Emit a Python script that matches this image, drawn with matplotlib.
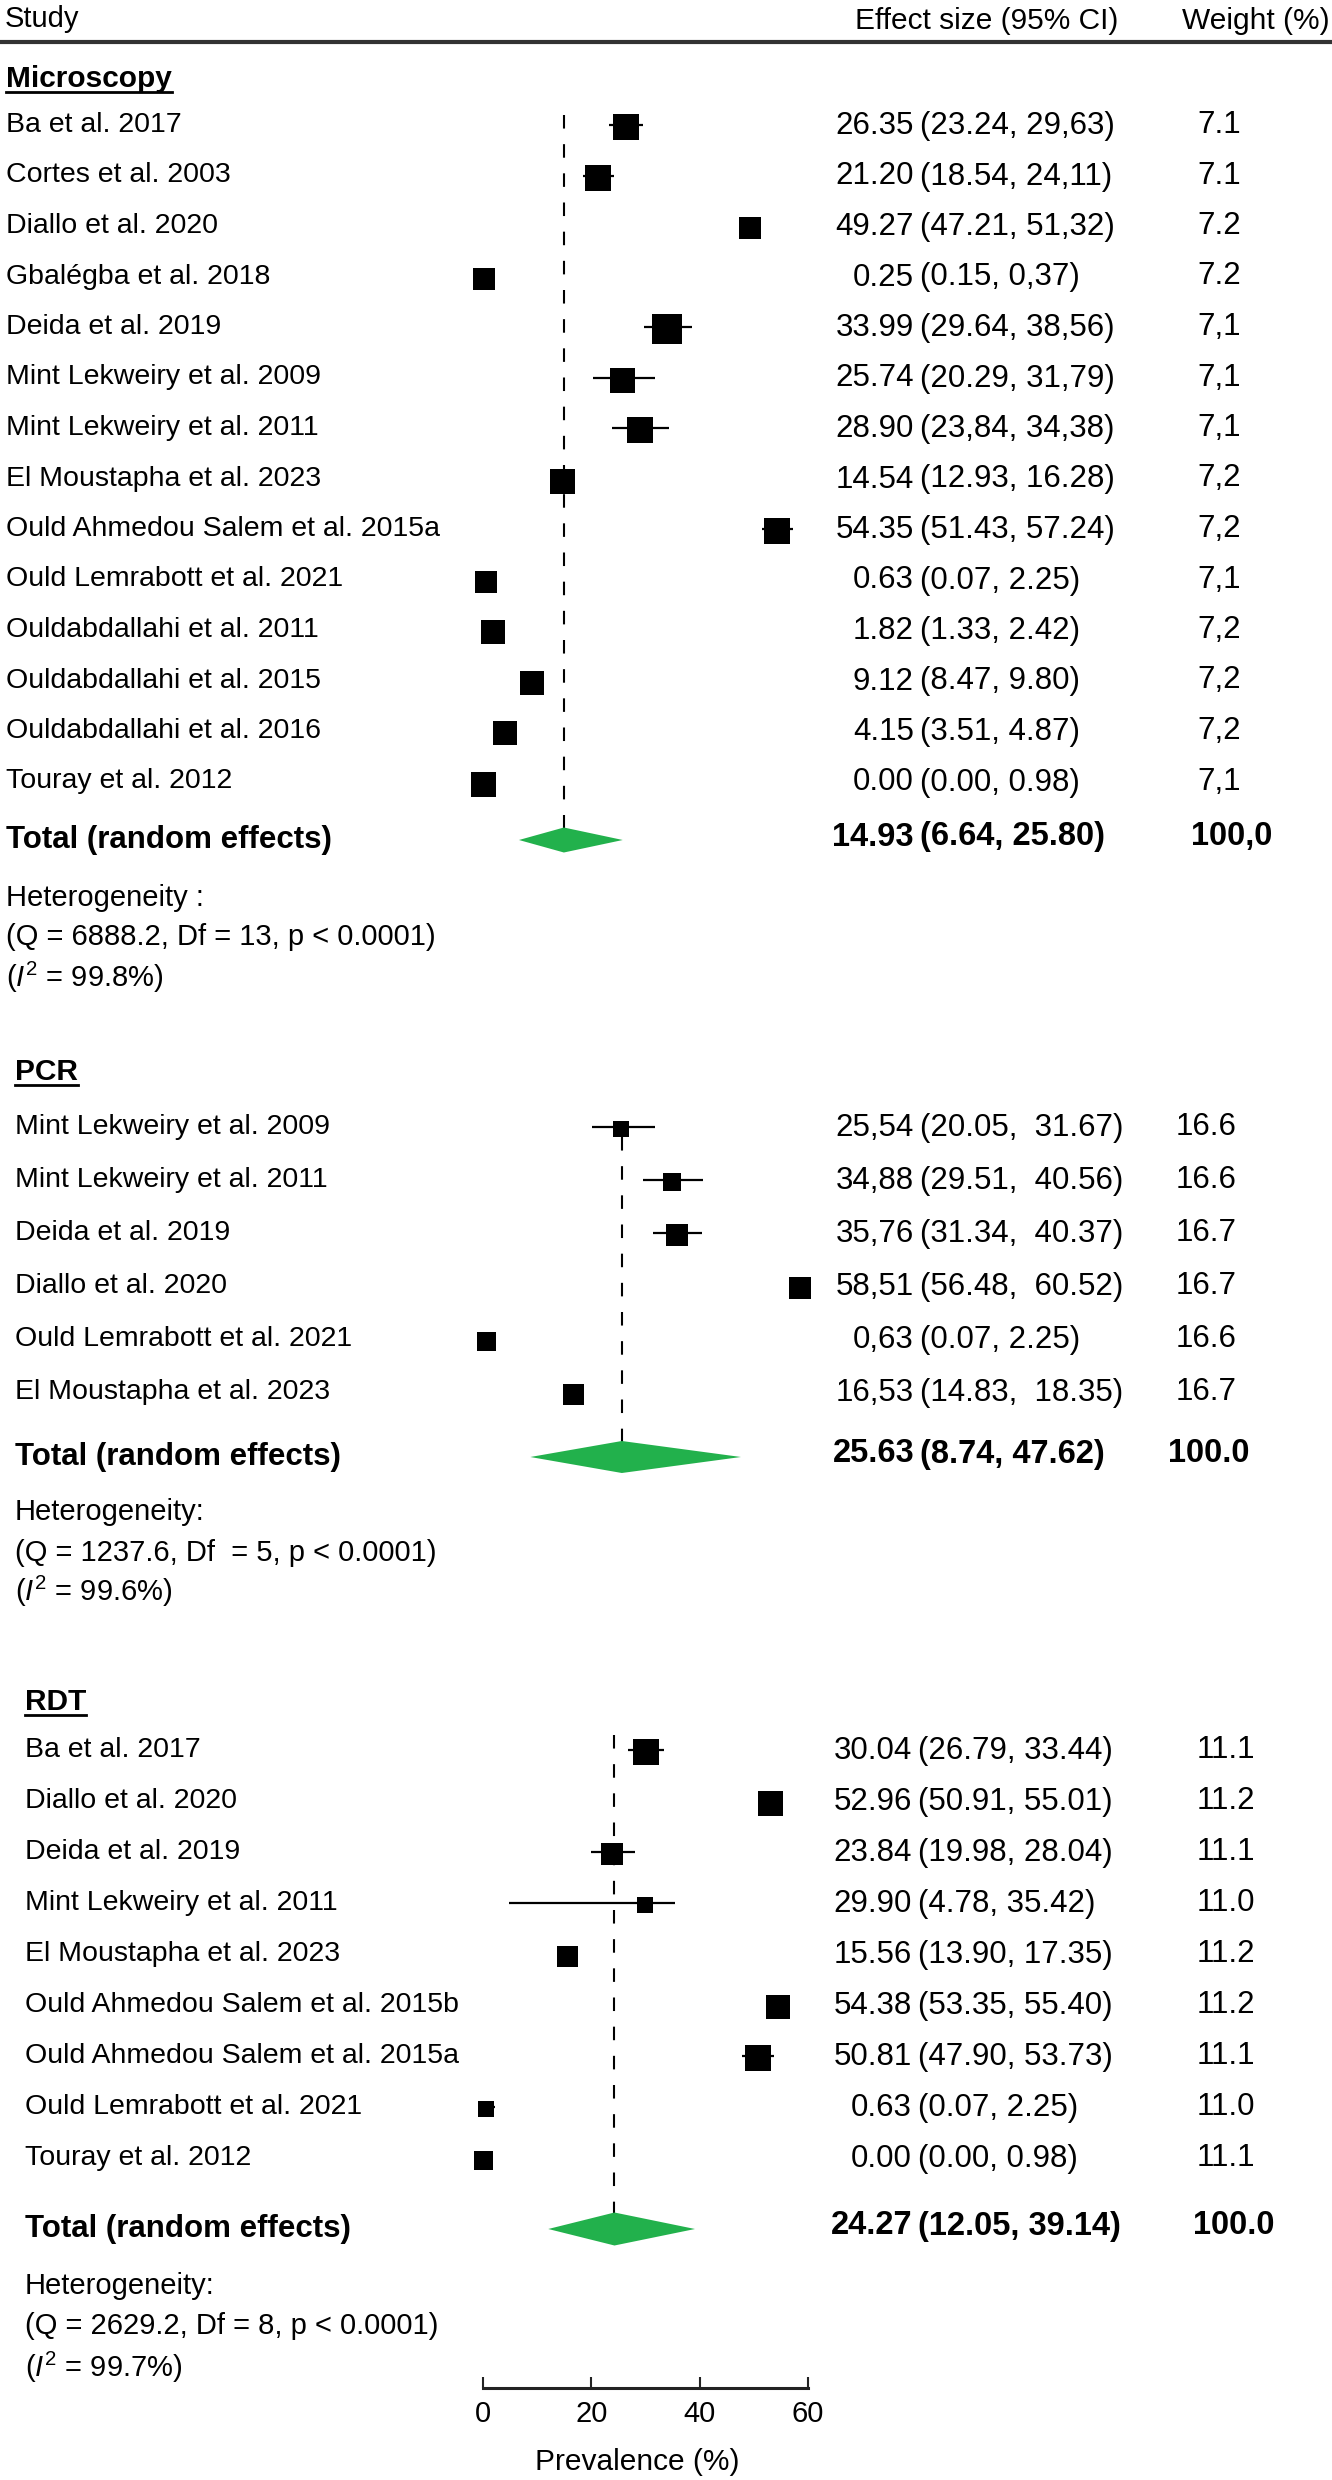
import numpy as np
import matplotlib
matplotlib.use("Agg")
import matplotlib.pyplot as plt
import matplotlib.transforms as mtransforms
from matplotlib.lines import Line2D

plt.rcParams['font.family'] = ['Liberation Sans', 'DejaVu Sans']
plt.rcParams['mathtext.fontset'] = 'custom'
plt.rcParams['mathtext.rm'] = 'Liberation Sans'
plt.rcParams['mathtext.it'] = 'Liberation Sans:italic'

# ---- Microscopy
micro_study = ["Ba et al. 2017", "Cortes et al. 2003", "Diallo et al. 2020", "Gbalégba et al. 2018",
               "Deida et al. 2019", "Mint Lekweiry et al. 2009", "Mint Lekweiry et al. 2011",
               "El Moustapha et al. 2023", "Ould Ahmedou Salem et al. 2015a", "Ould Lemrabott et al. 2021",
               "Ouldabdallahi et al. 2011", "Ouldabdallahi et al. 2015", "Ouldabdallahi et al. 2016",
               "Touray et al. 2012"]
micro_est = [26.35, 21.20, 49.27, 0.25, 33.99, 25.74, 28.90, 14.54, 54.35, 0.63, 1.82, 9.12, 4.15, 0.00]
micro_lo = [23.24, 18.54, 47.21, 0.15, 29.64, 20.29, 23.84, 12.93, 51.43, 0.07, 1.33, 8.47, 3.51, 0.00]
micro_hi = [29.63, 24.11, 51.32, 0.37, 38.56, 31.79, 34.38, 16.28, 57.24, 2.25, 2.42, 9.80, 4.87, 0.98]
micro_txt = ["26.35 (23.24, 29,63)", "21.20 (18.54, 24,11)", "49.27 (47.21, 51,32)", "0.25 (0.15, 0,37)",
             "33.99 (29.64, 38,56)", "25.74 (20.29, 31,79)", "28.90 (23,84, 34,38)", "14.54 (12.93, 16.28)",
             "54.35 (51.43, 57.24)", "0.63 (0.07, 2.25)", "1.82 (1.33, 2.42)", "9.12 (8.47, 9.80)",
             "4.15 (3.51, 4.87)", "0.00 (0.00, 0.98)"]
micro_wt = ["7.1", "7.1", "7.2", "7.2", "7,1", "7,1", "7,1", "7,2", "7,2", "7,1", "7,2", "7,2", "7,2", "7,1"]
micro_total = (14.93, 6.64, 25.80)
micro_total_txt = "14.93 (6.64, 25.80)"
micro_total_wt = "100,0"
micro_het = ["Heterogeneity :", "(Q = 6888.2, Df = 13, p < 0.0001)", r"($\mathit{I}^2$ = 99.8%)"]

# ---- PCR
pcr_study = ["Mint Lekweiry et al. 2009", "Mint Lekweiry et al. 2011", "Deida et al. 2019",
             "Diallo et al. 2020", "Ould Lemrabott et al. 2021", "El Moustapha et al. 2023"]
pcr_est = [25.54, 34.88, 35.76, 58.51, 0.63, 16.53]
pcr_lo = [20.05, 29.51, 31.34, 56.48, 0.07, 14.83]
pcr_hi = [31.67, 40.56, 40.37, 60.52, 2.25, 18.35]
pcr_txt = ["25,54 (20.05,  31.67)", "34,88 (29.51,  40.56)", "35,76 (31.34,  40.37)",
           "58,51 (56.48,  60.52)", "0,63 (0.07, 2.25)", "16,53 (14.83,  18.35)"]
pcr_wt = ["16.6", "16.6", "16.7", "16.7", "16.6", "16.7"]
pcr_total = (25.63, 8.74, 47.62)
pcr_total_txt = "25.63 (8.74, 47.62)"
pcr_total_wt = "100.0"
pcr_het = ["Heterogeneity:", "(Q = 1237.6, Df  = 5, p < 0.0001)", r"($\mathit{I}^2$ = 99.6%)"]

# ---- RDT
rdt_study = ["Ba et al. 2017", "Diallo et al. 2020", "Deida et al. 2019", "Mint Lekweiry et al. 2011",
             "El Moustapha et al. 2023", "Ould Ahmedou Salem et al. 2015b", "Ould Ahmedou Salem et al. 2015a",
             "Ould Lemrabott et al. 2021", "Touray et al. 2012"]
rdt_est = [30.04, 52.96, 23.84, 29.90, 15.56, 54.38, 50.81, 0.63, 0.00]
rdt_lo = [26.79, 50.91, 19.98, 4.78, 13.90, 53.35, 47.90, 0.07, 0.00]
rdt_hi = [33.44, 55.01, 28.04, 35.42, 17.35, 55.40, 53.73, 2.25, 0.98]
rdt_txt = ["30.04 (26.79, 33.44)", "52.96 (50.91, 55.01)", "23.84 (19.98, 28.04)", "29.90 (4.78, 35.42)",
           "15.56 (13.90, 17.35)", "54.38 (53.35, 55.40)", "50.81 (47.90, 53.73)", "0.63(0.07, 2.25)",
           "0.00(0.00, 0.98)"]
rdt_wt = ["11.1", "11.2", "11.1", "11.0", "11.2", "11.2", "11.1", "11.0", "11.1"]
rdt_total = (24.27, 12.05, 39.14)
rdt_total_txt = "24.27 (12.05, 39.14)"
rdt_total_wt = "100.0"
rdt_het = ["Heterogeneity:", "(Q = 2629.2, Df = 8, p < 0.0001)", r"($\mathit{I}^2$ = 99.7%)"]

xticks = [0, 20, 40, 60]
green = "#22b14c"

# figure in pixel units: 100 dpi
W, H = 1332, 2480
x0px, ppu = 483, 325 / 60.0
fig = plt.figure(figsize=(W / 100, H / 100), dpi=100)
ax = fig.add_axes([0, 0, 1, 1])
ax.set_xlim(-x0px / ppu, (W - x0px) / ppu)
ax.set_ylim(H, 0)
tx = mtransforms.blended_transform_factory(ax.transAxes, ax.transData)

FS = 20.5      # study names
FS_EFF = 22.5  # effect / weight columns
FS_TOT = 23.5  # total rows (bold numbers)
FS_HET = 21


def put(xpx, y, s, **kw):
    kw.setdefault("fontsize", FS)
    return ax.text(xpx / W, y, s, transform=tx, va="center", **kw)


# header
put(5, 19, "Study", fontsize=21)
put(855, 21, "Effect size (95% CI)", fontsize=21.5)
put(1182, 21, "Weight (%)", fontsize=21.5)
ax.axhline(42, color="#333333", lw=3)

underlines = []


def draw_panel(title, study, est, lo, hi, txt, wt, total, total_txt, total_wt, het, lay):
    t = put(lay["lx"], lay["title_y"], title, fontweight="bold", fontsize=21.5)
    underlines.append((t, lay["title_y"] + 13))
    ys = [lay["y0"] + i * lay["step"] for i in range(len(study))]
    # reference line
    ax.vlines(total[0], lay["dash_top"], lay["total_y"], colors="black", lw=1.5,
              linestyles=(0, (6.5, 7.5)), zorder=1)
    for i, y in enumerate(ys):
        put(lay["lx"], y, study[i])
        ax.hlines(y, lo[i], hi[i], colors="black", lw=1.6, zorder=2)
        ax.scatter([est[i]], [y + 2], s=(lay["box"][i] * 0.72) ** 2, marker="s", color="black",
                   linewidths=0, zorder=3)
        e, c = txt[i].split("(", 1)
        put(lay["ex"], y + 1, e.rstrip(), ha="right", fontsize=FS_EFF)
        put(lay["ex"] + 6, y + 1, "(" + c, ha="left", fontsize=FS_EFF)
        put(lay["wx"], y, wt[i], fontsize=FS_EFF)
    # pooled estimate
    ty = lay["total_y"]
    dh = lay["dh"] / 2
    ax.fill([total[1], total[0], total[2], total[0]], [ty, ty - dh, ty, ty + dh], color=green, lw=0, zorder=2)
    put(lay["lx"], ty, "Total (random effects)", fontweight="bold", fontsize=22.5)
    e, c = total_txt.split("(", 1)
    put(lay["ex"], ty - 3, e.rstrip(), ha="right", fontsize=FS_TOT, fontweight="bold")
    put(lay["ex"] + 6, ty - 3, "(" + c, ha="left", fontsize=FS_TOT, fontweight="bold")
    put(lay["twx"], ty - 4, total_wt, fontsize=FS_TOT, fontweight="bold")
    for k, hy in enumerate(lay["het_y"]):
        put(lay["lx"], hy, het[k], fontsize=FS_HET)


draw_panel("Microscopy", micro_study, micro_est, micro_lo, micro_hi, micro_txt, micro_wt,
           micro_total, micro_total_txt, micro_total_wt, micro_het,
           dict(lx=6, title_y=79, y0=125, step=50.5, total_y=840, het_y=[898, 937, 977],
                ex=914, wx=1197, twx=1191, dh=25, dash_top=115,
                box=[27, 26, 22, 23, 30, 25, 26, 25, 27, 22, 24, 24, 24, 25]))
draw_panel("PCR", pcr_study, pcr_est, pcr_lo, pcr_hi, pcr_txt, pcr_wt,
           pcr_total, pcr_total_txt, pcr_total_wt, pcr_het,
           dict(lx=15, title_y=1072, y0=1127, step=53, total_y=1457, het_y=[1512, 1553, 1591],
                ex=914, wx=1176, twx=1168, dh=32, dash_top=1137,
                box=[16, 18, 23, 23, 19, 21]))
draw_panel("RDT", rdt_study, rdt_est, rdt_lo, rdt_hi, rdt_txt, rdt_wt,
           rdt_total, rdt_total_txt, rdt_total_wt, rdt_het,
           dict(lx=25, title_y=1702, y0=1750, step=51, total_y=2229, het_y=[2286, 2326, 2367],
                ex=912, wx=1197, twx=1193, dh=33, dash_top=1735,
                box=[27, 25, 23, 16, 21, 24, 26, 16, 19]))

# x axis at the bottom
for side in ["top", "left", "right"]:
    ax.spines[side].set_visible(False)
ax.spines["bottom"].set_position(("data", 2388))
ax.spines["bottom"].set_bounds(0, 60)
ax.spines["bottom"].set_linewidth(2.2)
ax.spines["bottom"].set_color("#222222")
ax.set_xticks(xticks)
ax.set_yticks([])
ax.tick_params(axis="x", direction="in", length=8, width=1.5, labelsize=21, pad=9, color="#222222")
ax.text(28.5, 2462, "Prevalence (%)", ha="center", va="center", fontsize=21.5)

# underline section titles
renderer = fig.canvas.get_renderer()
for t, uy in underlines:
    bb = t.get_window_extent(renderer)
    ydisp = ax.transData.transform((0, uy))[1]
    fig.add_artist(Line2D([bb.x0, bb.x1], [ydisp, ydisp], transform=None, color="black", lw=2))

fig.savefig("out.png", dpi=100)
